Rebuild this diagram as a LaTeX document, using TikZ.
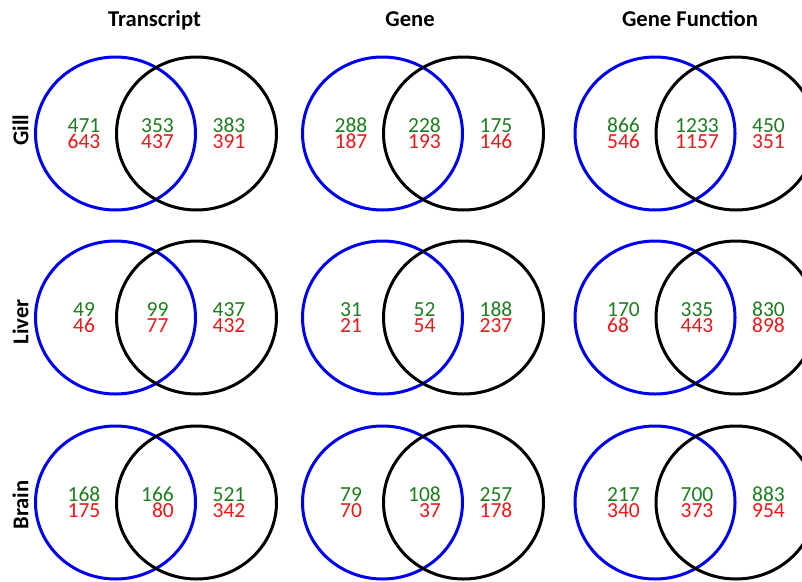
\documentclass[tikz,border=0pt]{standalone}
\usepackage{fontspec}
\setmainfont{Carlito}
\definecolor{vgreen}{RGB}{30,125,30}
\definecolor{vred}{RGB}{238,24,24}
\definecolor{vblue}{RGB}{0,0,240}
\tikzset{
  setA/.style={draw=vblue, line width=3pt},
  setB/.style={draw=black, line width=3pt},
  num/.style={font=\fontsize{21.5}{21.5}\selectfont, inner sep=0pt, anchor=base},
  upn/.style={num, text=vgreen},
  dnn/.style={num, text=vred},
  coltitle/.style={font=\bfseries\fontsize{22.6}{22.6}\selectfont, inner sep=0pt, anchor=base},
  rowlabel/.style={font=\bfseries\fontsize{22.6}{22.6}\selectfont, inner sep=0pt, rotate=90, anchor=center}
}
% #1 name, #2 cx, #3 cy, #4..#9 numbers
\newcommand\vennpair[9]{%
  \draw[setA] (#2,#3) ellipse [x radius=80, y radius=76.5];
  \draw[setB] (#2+81,#3) ellipse [x radius=80, y radius=76.5];
  \node[upn] (#1-lg) at (#2-31.5,#3-1.5) {#4};
  \node[dnn] (#1-lr) at (#2-31.5,#3+14.5) {#5};
  \node[upn] (#1-mg) at (#2+42,#3-1.5) {#6};
  \node[dnn] (#1-mr) at (#2+42,#3+14.5) {#7};
  \node[upn] (#1-rg) at (#2+113.5,#3-1.5) {#8};
  \node[dnn] (#1-rr) at (#2+113.5,#3+14.5) {#9};
}
\begin{document}
\begin{tikzpicture}[x=1pt,y=-1pt]
\useasboundingbox (0,0) rectangle (802,581);
\clip (0,0) rectangle (802,581);
\fill[white] (0,0) rectangle (802,581);
% column titles
\node[coltitle] (t1) at (154.5,26) {Transcript};
\node[coltitle] (t2) at (410,26) {Gene};
\node[coltitle] (t3) at (690,26) {Gene Function};
% row labels
\node[rowlabel] (r1) at (20.5,130) {Gill};
\node[rowlabel] (r2) at (20.5,322) {Liver};
\node[rowlabel] (r3) at (20.5,505) {Brain};
% Gill
\vennpair{gt}{115.5}{133.5}{471}{643}{353}{437}{383}{391}
\vennpair{gg}{382.5}{133.5}{288}{187}{228}{193}{175}{146}
\vennpair{gf}{655}{133.5}{866}{546}{1233}{1157}{450}{351}
% Liver
\vennpair{lt}{115.5}{317.5}{49}{46}{99}{77}{437}{432}
\vennpair{lg}{382.5}{317.5}{31}{21}{52}{54}{188}{237}
\vennpair{lf}{655}{317.5}{170}{68\phantom{0}}{335}{443}{830}{898}
% Brain
\vennpair{bt}{115.5}{502.5}{168}{175}{166}{\phantom{1}80}{521}{342}
\vennpair{bg}{382.5}{502.5}{79}{70}{108}{\phantom{1}37}{257}{178}
\vennpair{bf}{655}{502.5}{217}{340}{700}{373}{883}{954}
\end{tikzpicture}
\end{document}
